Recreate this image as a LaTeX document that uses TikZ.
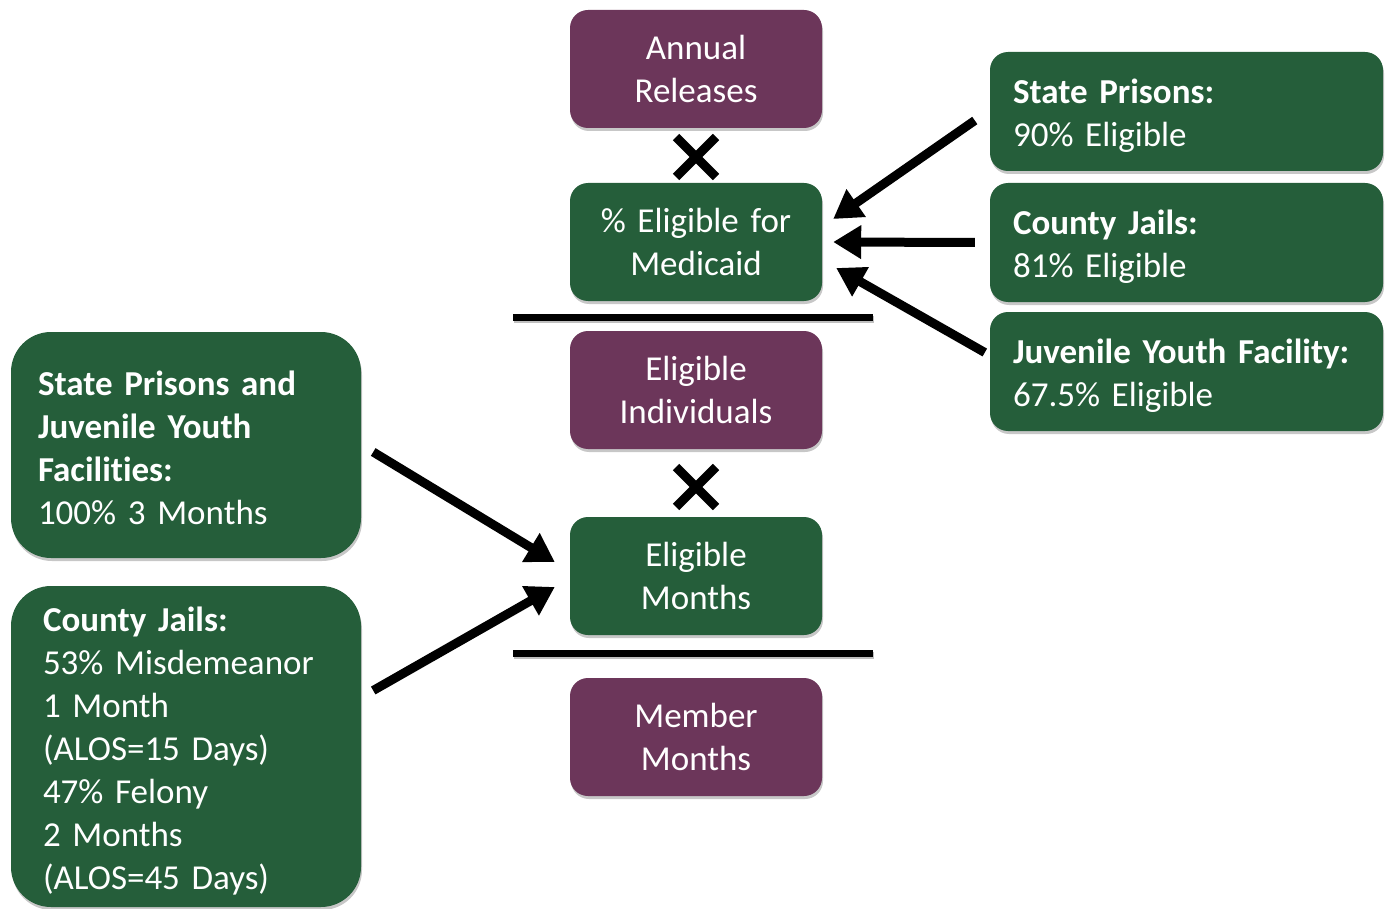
\documentclass[tikz,border=0pt]{standalone}
\usepackage{fontspec}
\setmainfont{Carlito}[Ligatures={NoCommon}]
\usetikzlibrary{arrows.meta,shadows}
\definecolor{boxgreen}{RGB}{37,94,58}
\definecolor{boxpurple}{RGB}{108,54,90}
\newcommand{\firstup}[1]{\rule{0pt}{#1}}
\newcommand{\boxfont}{\fontsize{35}{43}\selectfont\spaceskip=6pt\relax}
\tikzset{
  shad/.style={drop shadow={shadow xshift=1pt,shadow yshift=-3pt,fill=black!22,opacity=1}},
  cbox/.style={shad,rounded corners=18pt,minimum width=252pt,minimum height=118pt,text width=240pt,align=center,text=white,inner sep=0pt,font=\boxfont},
  gbox/.style={cbox,fill=boxgreen},
  pbox/.style={cbox,fill=boxpurple},
  rbox/.style={shad,fill=boxgreen,rounded corners=18pt,minimum width=393pt,minimum height=119pt,text width=347pt,inner xsep=23pt,inner ysep=0pt,align=left,text=white,font=\boxfont},
  lbox/.style={shad,fill=boxgreen,rounded corners=40pt,minimum width=350pt,align=left,text=white,inner ysep=0pt,font=\boxfont},
  arr/.style={line width=9pt,-{Triangle[length=28pt,width=32pt]}},
  bar/.style={line width=7pt},
  cross/.style={line width=9pt}
}
\begin{document}
\begin{tikzpicture}[x=1pt,y=-1pt]
\useasboundingbox (0,0) rectangle (1389,909);
% central column
\node[pbox] (ar) at (696,69) {Annual\\Releases};
\node[gbox] (pe) at (696,242) {\% Eligible for\\Medicaid};
\node[pbox] (ei) at (696,390) {Eligible\\Individuals};
\node[gbox] (em) at (696,576) {Eligible\\Months};
\node[pbox] (mm) at (696,737) {Member\\Months};
% division bars
\coordinate (b1l) at (513,317); \coordinate (b1r) at (873,317);
\coordinate (b2l) at (513,653); \coordinate (b2r) at (873,653);
\draw[bar,black!25] ([shift={(1,2)}]b1l) -- ([shift={(1,2)}]b1r);
\draw[bar,black!25] ([shift={(1,2)}]b2l) -- ([shift={(1,2)}]b2r);
\draw[bar] (b1l) -- (b1r);
\draw[bar] (b2l) -- (b2r);
% multiplication crosses
\coordinate (x1) at (696,157);
\coordinate (x2) at (696,487);
\draw[cross] ([shift={(-20,-20)}]x1) -- ([shift={(20,20)}]x1);
\draw[cross] ([shift={(-20,20)}]x1) -- ([shift={(20,-20)}]x1);
\draw[cross] ([shift={(-20,-20)}]x2) -- ([shift={(20,20)}]x2);
\draw[cross] ([shift={(-20,20)}]x2) -- ([shift={(20,-20)}]x2);
% right boxes
\node[rbox] (sp) at (1186.5,111.5) {\firstup{34pt}\textbf{State Prisons:}\\90\% Eligible};
\node[rbox] (cj) at (1186.5,242.5) {\firstup{34pt}\textbf{County Jails:}\\81\% Eligible};
\node[rbox] (jy) at (1186.5,371.5) {\firstup{34pt}\textbf{Juvenile Youth Facility:}\\67.5\% Eligible};
% left boxes
\node[lbox,minimum height=226pt,text width=296pt,inner xsep=27pt] (lsp) at (186,445) {\firstup{30pt}\textbf{State Prisons and}\\\textbf{Juvenile Youth}\\\textbf{Facilities:}\\100\% 3 Months};
\node[lbox,minimum height=321pt,text width=286pt,inner xsep=32pt] (lcj) at (186,746.5) {\firstup{34pt}\textbf{County Jails:}\\53\% Misdemeanor\\1 Month\\(ALOS=15 Days)\\47\% Felony\\2 Months\\(ALOS=45 Days)};
% arrows
\draw[arr] ([shift={(-15,9)}]sp.west) -- ([shift={(11,-23)}]pe.east);
\draw[arr] ([shift={(-15,0)}]cj.west) -- ([shift={(11,0)}]pe.east);
\draw[arr] ([shift={(-5,-19)}]jy.west) -- ([shift={(14,26)}]pe.east);
\draw[arr] ([shift={(12,7)}]lsp.east) -- ([shift={(-15,-14)}]em.west);
\draw[arr] ([shift={(12,-56)}]lcj.east) -- ([shift={(-15,11)}]em.west);
\end{tikzpicture}
\end{document}
